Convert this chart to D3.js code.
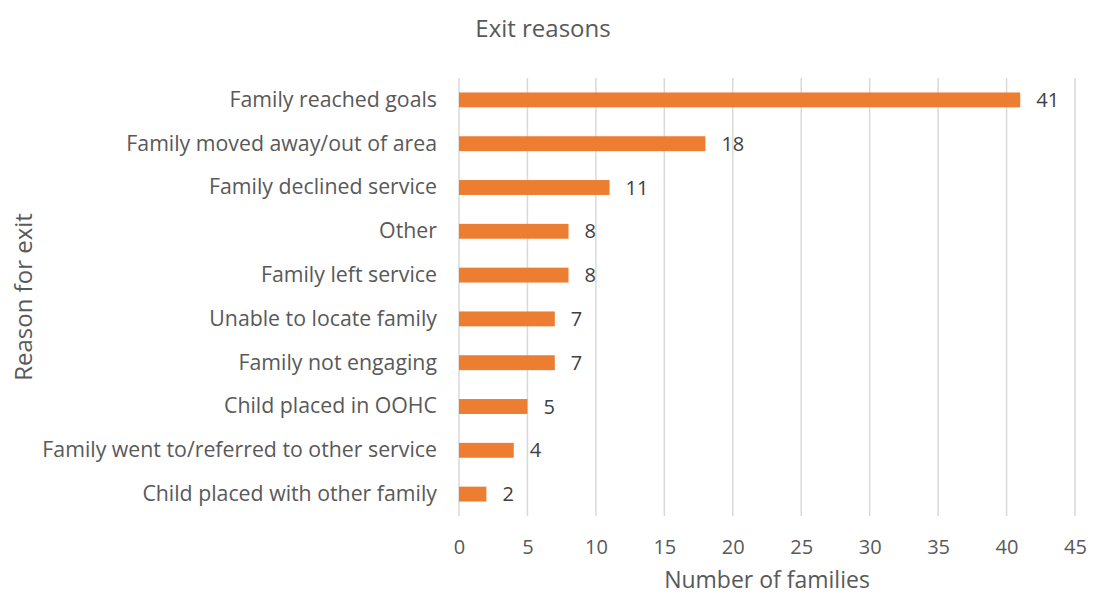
<!DOCTYPE html>
<html>
<head>
<meta charset="utf-8">
<script src="https://cdn.jsdelivr.net/npm/d3@7"></script>
<style>
  body { margin: 0; background: #fff; }
  svg { display: block; font-family: "Open Sans", sans-serif; }
</style>
</head>
<body>
<svg id="chart" width="1093" height="595"></svg>
<script>
// Exit reasons, top to bottom
const categories = [
  "Family reached goals",
  "Family moved away/out of area",
  "Family declined service",
  "Other",
  "Family left service",
  "Unable to locate family",
  "Family not engaging",
  "Child placed in OOHC",
  "Family went to/referred to other service",
  "Child placed with other family"
];
const values = [41, 18, 11, 8, 8, 7, 7, 5, 4, 2];
const xTicks = [0, 5, 10, 15, 20, 25, 30, 35, 40, 45];

const svg = d3.select("#chart");
const margin = { top: 78, right: 18, bottom: 79, left: 459 };
const W = 1093, H = 595;
const innerW = W - margin.left - margin.right;
const innerH = H - margin.top - margin.bottom;
const textColor = "#595959";
const font = "'Open Sans', sans-serif";

const x = d3.scaleLinear().domain([0, 45]).range([0, innerW]);
const y = d3.scaleBand().domain(categories).range([0, innerH]).paddingInner(0.66).paddingOuter(0.33);

const g = svg.append("g").attr("transform", `translate(${margin.left},${margin.top})`);

// vertical gridlines
g.selectAll("line.grid").data(xTicks).join("line")
  .attr("class", "grid")
  .attr("x1", d => x(d)).attr("x2", d => x(d))
  .attr("y1", 0).attr("y2", innerH)
  .attr("stroke", "#d9d9d9").attr("stroke-width", 1.5);

// x axis tick labels
const xAxis = d3.axisBottom(x).tickValues(xTicks).tickSize(0).tickPadding(24);
const xg = g.append("g").attr("transform", `translate(0,${innerH})`).call(xAxis);
xg.select(".domain").remove();
xg.selectAll("text").attr("fill", textColor).style("font-size", "20px").style("font-family", font);

// y axis category labels
const yAxis = d3.axisLeft(y).tickSize(0).tickPadding(22);
const yg = g.append("g").call(yAxis);
yg.select(".domain").remove();
yg.selectAll("text").attr("fill", textColor).style("font-size", "21.3px").style("font-family", font);

// bars
g.selectAll("rect.bar").data(categories).join("rect")
  .attr("class", "bar")
  .attr("x", x(0))
  .attr("y", d => y(d))
  .attr("width", (d, i) => x(values[i]) - x(0))
  .attr("height", y.bandwidth())
  .attr("fill", "#ed7d31");

// value labels
g.selectAll("text.val").data(categories).join("text")
  .attr("class", "val")
  .attr("x", (d, i) => x(values[i]) + 16)
  .attr("y", d => y(d) + y.bandwidth() / 2)
  .attr("dy", "0.35em")
  .attr("fill", "#404040")
  .style("font-size", "20px")
  .text((d, i) => values[i]);

// title
svg.append("text")
  .attr("x", 543).attr("y", 37)
  .attr("text-anchor", "middle")
  .attr("fill", textColor)
  .style("font-size", "24px")
  .text("Exit reasons");

// x axis title
svg.append("text")
  .attr("x", margin.left + innerW / 2).attr("y", 588)
  .attr("text-anchor", "middle")
  .attr("fill", textColor)
  .style("font-size", "23px")
  .text("Number of families");

// y axis title
svg.append("text")
  .attr("transform", `translate(32,${margin.top + innerH / 2}) rotate(-90)`)
  .attr("text-anchor", "middle")
  .attr("fill", textColor)
  .style("font-size", "24px")
  .text("Reason for exit");
</script>
</body>
</html>
